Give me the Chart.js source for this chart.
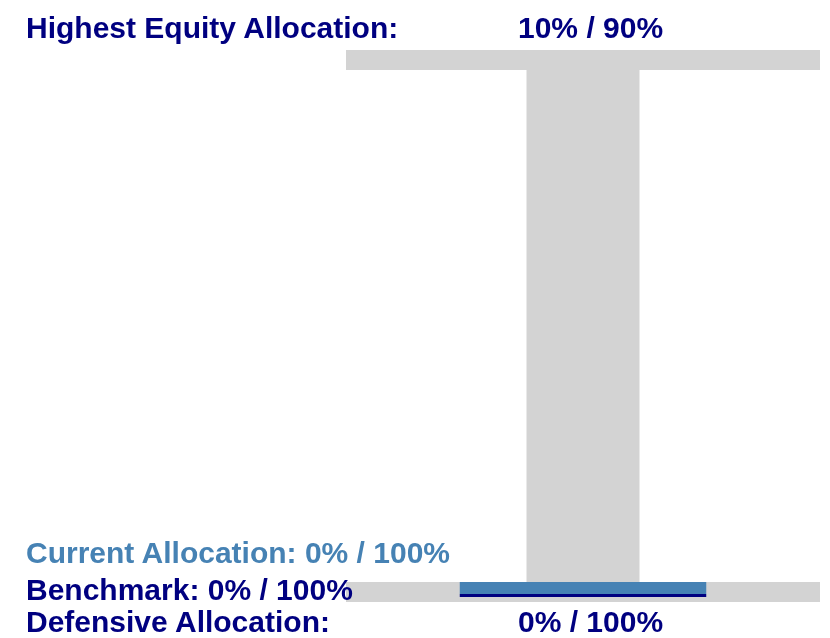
<!DOCTYPE html>
<html lang="en">
<head>
  <meta charset="UTF-8">
  <title>Allocation Range</title>
  <script src="https://cdn.jsdelivr.net/npm/chart.js"></script>
  <style>
    * {
      margin: 0;
      padding: 0;
      box-sizing: border-box;
    }

    body {
      width: 830px;
      height: 638px;
      background: #fff;
      position: relative;
      overflow: hidden;
      font-family: 'Liberation Sans', Arial, sans-serif;
    }

    #rangeChart {
      position: absolute;
      left: 0;
      top: 0;
    }

    .label {
      position: absolute;
      font-size: 30px;
      font-weight: 700;
      line-height: 30px;
      white-space: nowrap;
      color: #000080;
      z-index: 2;
    }

    .current { color: #4682B4; }
  </style>
</head>
<body>
  <canvas id="rangeChart" width="830" height="638"></canvas>

  <div class="label" id="highLabel" style="left:26px; top:13px;"></div>
  <div class="label" id="highValue" style="left:518px; top:13px;"></div>
  <div class="label current" id="currentLabel" style="left:26px; top:538px;"></div>
  <div class="label" id="benchLabel" style="left:26px; top:575px;"></div>
  <div class="label" id="defLabel" style="left:26px; top:607px;"></div>
  <div class="label" id="defValue" style="left:518px; top:607px;"></div>

  <script>
    // equity / fixed income splits, in percent
    const highestEquity = [10, 90];
    const defensive = [0, 100];
    const current = [0, 100];
    const benchmark = [0, 100];

    // horizontal extent of the gauge (x units) and the marker span
    const capRange = [0, 100];
    const columnCenter = 50;
    const markerRange = [24, 76];

    const fmt = pair => `${pair[0]}% / ${pair[1]}%`;

    document.getElementById("highLabel").innerText = "Highest Equity Allocation:";
    document.getElementById("highValue").innerText = fmt(highestEquity);
    document.getElementById("currentLabel").innerText = `Current Allocation: ${fmt(current)}`;
    document.getElementById("benchLabel").innerText = `Benchmark: ${fmt(benchmark)}`;
    document.getElementById("defLabel").innerText = "Defensive Allocation:";
    document.getElementById("defValue").innerText = fmt(defensive);

    const hLine = (range, y) => [{ x: range[0], y: y }, { x: range[1], y: y }];

    // nudges a dataset up/down by a few pixels (marker sits in the cap)
    const shiftPlugin = {
      id: 'shift',
      beforeDatasetDraw(chart, args) {
        const off = chart.data.datasets[args.index].yShift;
        chart.ctx.save();
        if (off) chart.ctx.translate(0, off);
      },
      afterDatasetDraw(chart) {
        chart.ctx.restore();
      }
    };

    const gray = '#D3D3D3';
    const common = { pointRadius: 0, tension: 0, clip: false, borderCapStyle: 'butt', fill: false };

    new Chart(document.getElementById("rangeChart"), {
      type: 'line',
      data: {
        datasets: [
          { ...common, label: 'Highest', data: hLine(capRange, highestEquity[0]), borderColor: gray, borderWidth: 20, order: 3 },
          { ...common, label: 'Range', data: [{ x: columnCenter, y: defensive[0] }, { x: columnCenter, y: highestEquity[0] }], borderColor: gray, borderWidth: 113, order: 4 },
          { ...common, label: 'Defensive', data: hLine(capRange, defensive[0]), borderColor: gray, borderWidth: 20, order: 3 },
          { ...common, label: 'Current', data: hLine(markerRange, current[0]), borderColor: '#4682B4', borderWidth: 12, yShift: -4, order: 2 },
          { ...common, label: 'Benchmark', data: hLine(markerRange, benchmark[0]), borderColor: '#000080', borderWidth: 3, yShift: 3.5, order: 1 }
        ]
      },
      options: {
        responsive: false,
        animation: false,
        devicePixelRatio: 1,
        layout: { padding: { left: 346, right: 10, top: 60, bottom: 46 } },
        plugins: { legend: { display: false }, tooltip: { enabled: false } },
        scales: {
          x: { type: 'linear', min: 0, max: 100, display: false },
          y: { type: 'linear', min: 0, max: 10, display: false }
        }
      },
      plugins: [shiftPlugin]
    });
  </script>
</body>
</html>
